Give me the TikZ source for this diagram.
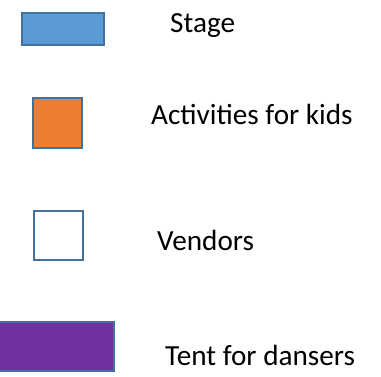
\documentclass[tikz,border=0pt]{standalone}
\usepackage{fontspec}
\setmainfont{Carlito}
\definecolor{edge}{HTML}{41719C}
\definecolor{stageblue}{HTML}{5B9BD5}
\definecolor{kidsorange}{HTML}{ED7D31}
\definecolor{tentpurple}{HTML}{7030A0}
\tikzset{
  keybox/.style={draw=edge, line width=1.8pt, inner sep=0pt, outer sep=0pt, anchor=north west},
  label/.style={anchor=base west, inner sep=0pt, font=\fontsize{29.2}{31}\selectfont, text=black}
}
\begin{document}
\begin{tikzpicture}[x=1pt,y=-1pt]
\useasboundingbox (0,0) rectangle (381,376);
\node[keybox, fill=stageblue, minimum width=82pt, minimum height=32pt] (stage) at (22,13) {};
\node[keybox, fill=kidsorange, minimum width=49pt, minimum height=50pt] (kids) at (33,98) {};
\node[keybox, fill=white, minimum width=49pt, minimum height=49pt] (vendors) at (34,211) {};
\node[keybox, fill=tentpurple, minimum width=115pt, minimum height=49pt] (tent) at (-1,322) {};
\node[label] (tstage) at (170,32.7) {Stage};
\node[label] (tkids) at (151,124) {Activities for kids};
\node[label] (tvendors) at (157,250) {Vendors};
\node[label] (ttent) at (165,365) {Tent for dansers};
\end{tikzpicture}
\end{document}
